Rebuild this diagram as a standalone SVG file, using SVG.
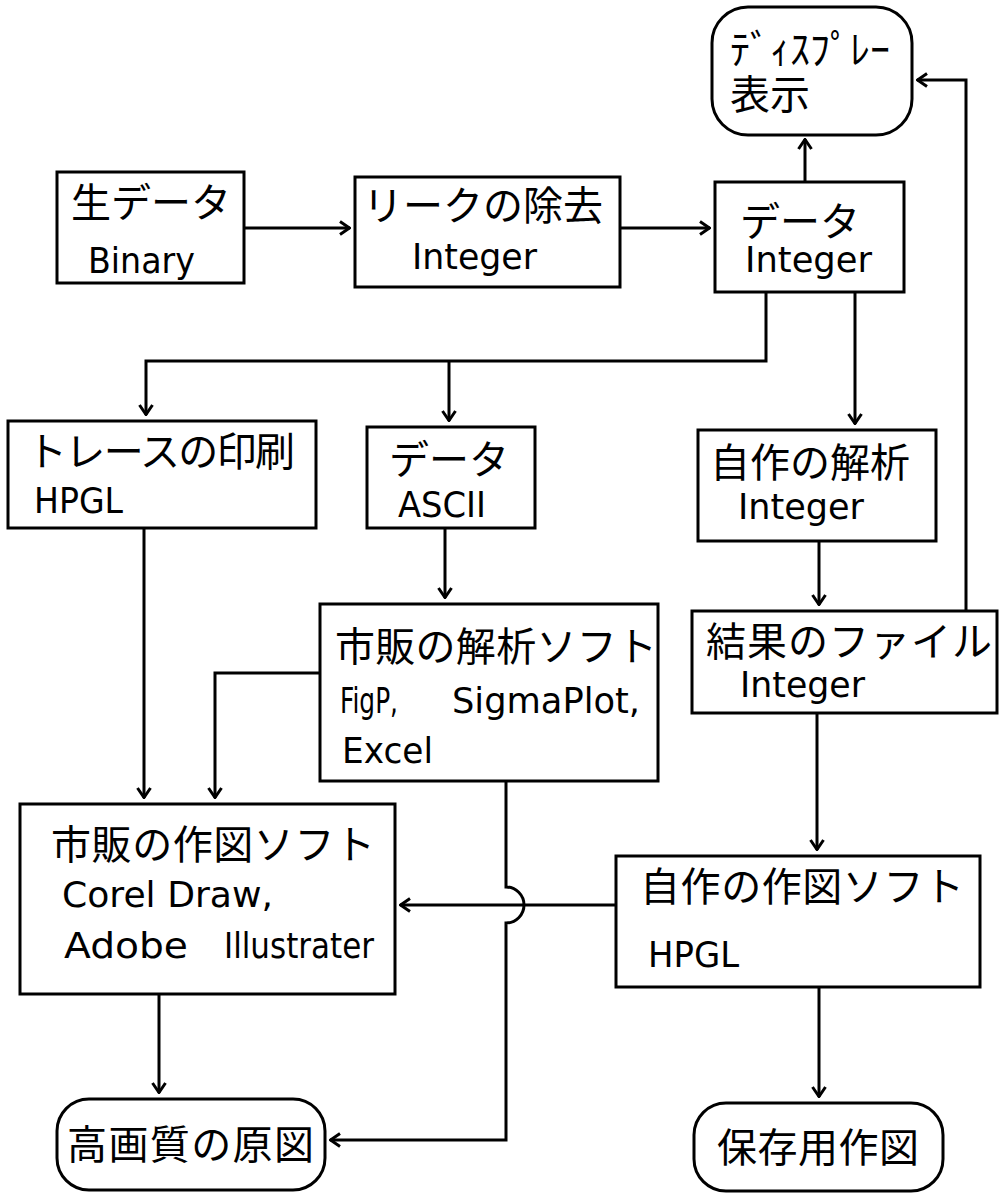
<svg xmlns="http://www.w3.org/2000/svg" width="999" height="1193" viewBox="0 0 999 1193">
<style>
.box{fill:#fff;stroke:#000;stroke-width:3}
.jp{font-family:"Noto Sans CJK JP","Noto Sans CJK SC",sans-serif;font-size:40px;fill:#000}
.en{font-family:"DejaVu Sans","Liberation Sans",sans-serif;font-size:35px;fill:#000}
.ln{fill:none;stroke:#000;stroke-width:3}
</style>
<defs>
<marker id="arr" viewBox="0 0 12 16" refX="11" refY="8" markerWidth="12" markerHeight="16" markerUnits="userSpaceOnUse" orient="auto">
<path d="M1,1.5 L10.5,8 L1,14.5" fill="none" stroke="#000" stroke-width="3"/>
</marker>
</defs>
<rect width="999" height="1193" fill="#fff"/>
<g id="connectors">
<path class="ln" d="M244,228 H350" marker-end="url(#arr)"/>
<path class="ln" d="M620,228 H710" marker-end="url(#arr)"/>
<path class="ln" d="M805,182 V139" marker-end="url(#arr)"/>
<path class="ln" d="M966,611 V80 H917" marker-end="url(#arr)"/>
<path class="ln" d="M766,292 V361 H146 V415" marker-end="url(#arr)"/>
<path class="ln" d="M449,361 V421" marker-end="url(#arr)"/>
<path class="ln" d="M855,292 V424" marker-end="url(#arr)"/>
<path class="ln" d="M819,541 V605" marker-end="url(#arr)"/>
<path class="ln" d="M445,528 V598" marker-end="url(#arr)"/>
<path class="ln" d="M144,528 V798" marker-end="url(#arr)"/>
<path class="ln" d="M320,673 H215 V798" marker-end="url(#arr)"/>
<path class="ln" d="M817,713 V850" marker-end="url(#arr)"/>
<path class="ln" d="M616,905 H400" marker-end="url(#arr)"/>
<path class="ln" d="M506,781 V887 A18,18 0 0 1 506,923 V1140 H330" marker-end="url(#arr)"/>
<path class="ln" d="M159,994 V1093" marker-end="url(#arr)"/>
<path class="ln" d="M819,987 V1097" marker-end="url(#arr)"/>
</g>
<g id="n-display">
<rect class="box" x="712" y="7" width="200" height="128" rx="36"/>
<text class="jp"><tspan x="730" y="64">ﾃﾞｨｽﾌﾟﾚｰ</tspan><tspan x="730" y="109">表示</tspan></text>
</g>
<g id="n-raw">
<rect class="box" x="57" y="172" width="187" height="111"/>
<text class="jp" x="71" y="217">生データ</text>
<text class="en" x="88" y="273" textLength="107" lengthAdjust="spacingAndGlyphs">Binary</text>
</g>
<g id="n-leak">
<rect class="box" x="355" y="177" width="265" height="110"/>
<text class="jp" x="363" y="220">リークの除去</text>
<text class="en" x="412" y="269" textLength="125" lengthAdjust="spacingAndGlyphs">Integer</text>
</g>
<g id="n-data">
<rect class="box" x="715" y="182" width="189" height="110"/>
<text class="jp"><tspan x="740" y="236">データ</tspan><tspan class="en" x="745" y="272" textLength="127" lengthAdjust="spacingAndGlyphs">Integer</tspan></text>
</g>
<g id="n-trace">
<rect class="box" x="8" y="421" width="308" height="107"/>
<text class="jp" x="27" y="466" textLength="268">トレースの印刷</text>
<text class="en" x="34" y="513" textLength="89" lengthAdjust="spacingAndGlyphs">HPGL</text>
</g>
<g id="n-ascii">
<rect class="box" x="367" y="427" width="168" height="101"/>
<text class="jp" x="389" y="474">データ</text>
<text class="en" x="398" y="517" textLength="88" lengthAdjust="spacingAndGlyphs">ASCII</text>
</g>
<g id="n-own-analysis">
<rect class="box" x="698" y="430" width="238" height="111"/>
<text class="jp" x="710" y="477">自作の解析</text>
<text class="en" x="738" y="519" textLength="126" lengthAdjust="spacingAndGlyphs">Integer</text>
</g>
<g id="n-com-analysis">
<rect class="box" x="320" y="604" width="338" height="177"/>
<text class="jp" x="335" y="661" textLength="322">市販の解析ソフト</text>
<text class="en" x="340" y="713" textLength="58" lengthAdjust="spacingAndGlyphs">FigP,</text>
<text class="en" x="452" y="713" textLength="188" lengthAdjust="spacingAndGlyphs">SigmaPlot,</text>
<text class="en" x="342" y="763" textLength="91" lengthAdjust="spacingAndGlyphs">Excel</text>
</g>
<g id="n-result">
<rect class="box" x="692" y="611" width="305" height="102"/>
<text class="jp" x="706" y="656" textLength="286">結果のファイル</text>
<text class="en" x="740" y="697" textLength="125" lengthAdjust="spacingAndGlyphs">Integer</text>
</g>
<g id="n-com-draw">
<rect class="box" x="20" y="804" width="375" height="190"/>
<text class="jp" x="51" y="859" textLength="324">市販の作図ソフト</text>
<text class="en" x="62" y="907" textLength="211" lengthAdjust="spacingAndGlyphs">Corel Draw,</text>
<text class="en" x="64" y="958" textLength="124" lengthAdjust="spacingAndGlyphs">Adobe</text>
<text class="en" x="224" y="958" textLength="150" lengthAdjust="spacingAndGlyphs">Illustrater</text>
</g>
<g id="n-own-draw">
<rect class="box" x="616" y="856" width="364" height="131"/>
<text class="jp" x="640" y="901" textLength="324">自作の作図ソフト</text>
<text class="en" x="648" y="967" textLength="91" lengthAdjust="spacingAndGlyphs">HPGL</text>
</g>
<g id="n-hq">
<rect class="box" x="57" y="1099" width="268" height="91" rx="32"/>
<text class="jp" x="67" y="1159" textLength="247">高画質の原図</text>
</g>
<g id="n-archive">
<rect class="box" x="694" y="1103" width="249" height="88" rx="32"/>
<text class="jp" x="717" y="1162" textLength="202">保存用作図</text>
</g>
</svg>
